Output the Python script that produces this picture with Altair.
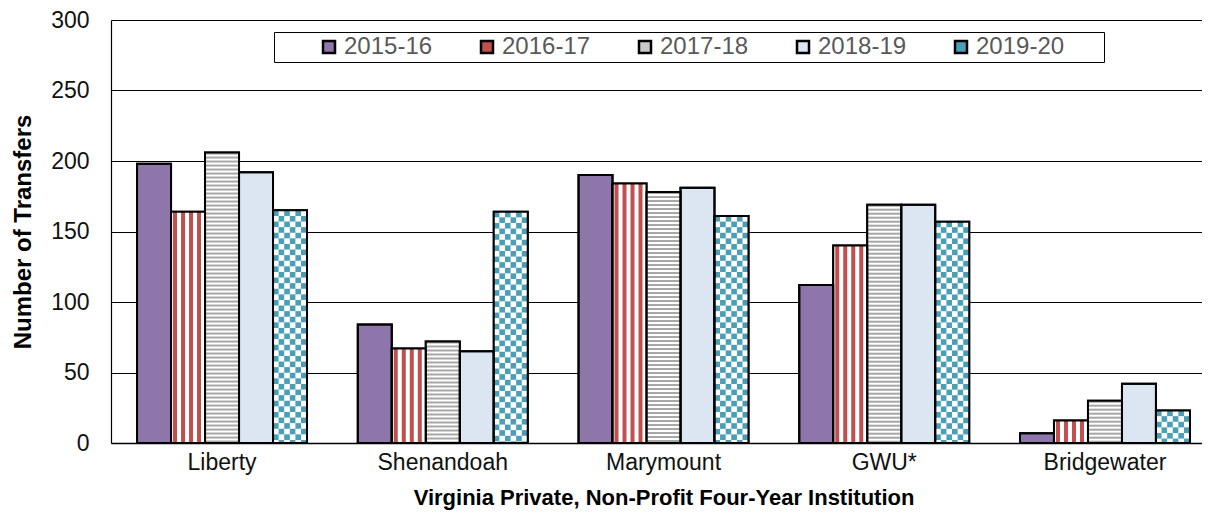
import base64
import altair as alt
import pandas as pd

# ---- data ----
categories = ["Liberty", "Shenandoah", "Marymount", "GWU*", "Bridgewater"]
series = ["2015-16", "2016-17", "2017-18", "2018-19", "2019-20"]
v_2015_16 = [198, 84, 190, 112, 7]
v_2016_17 = [164, 67, 184, 140, 16]
v_2017_18 = [206, 72, 178, 169, 30]
v_2018_19 = [192, 65, 181, 169, 42]
v_2019_20 = [165, 164, 161, 157, 23]
y_ticks = [0, 50, 100, 150, 200, 250, 300]

# ---- style ----
colors = ["#8E76AB", "#C0504D", "#C8C8C8", "#DCE6F2", "#4A9FB6"]
FONT = "Liberation Sans"
W, H = 1091, 423
PX = H / 300.0
BAR_W = 34


def uri(svg):
    return "data:image/svg+xml;base64," + base64.b64encode(svg.encode("utf-8")).decode("ascii")


def svg_wrap(h, body):
    return (f"<svg xmlns='http://www.w3.org/2000/svg' width='{BAR_W}' height='{h:.2f}' "
            f"viewBox='0 0 {BAR_W} {h:.2f}' preserveAspectRatio='none'>{body}</svg>")


def red_vertical(h):
    body = f"<rect width='{BAR_W}' height='{h:.2f}' fill='white'/>"
    for x in (2, 10, 18, 26):
        body += f"<rect x='{x}' y='0' width='4' height='{h:.2f}' fill='#C0504D'/>"
    return uri(svg_wrap(h, body))


def gray_horizontal(h):
    body = ("<defs><pattern id='p' width='34' height='4' patternUnits='userSpaceOnUse'>"
            "<rect width='34' height='2' fill='#A6A6A6'/></pattern></defs>"
            f"<rect width='{BAR_W}' height='{h:.2f}' fill='white'/>"
            f"<rect width='{BAR_W}' height='{h:.2f}' fill='url(#p)'/>")
    return uri(svg_wrap(h, body))


def checker(h):
    c = 5.6
    body = (f"<defs><pattern id='c' width='{2*c}' height='{2*c}' patternUnits='userSpaceOnUse'>"
            f"<rect width='{c}' height='{c}' fill='#4A9FB6'/>"
            f"<rect x='{c}' y='{c}' width='{c}' height='{c}' fill='#4A9FB6'/></pattern></defs>"
            f"<rect width='{BAR_W}' height='{h:.2f}' fill='white'/>"
            f"<rect width='{BAR_W}' height='{h:.2f}' fill='url(#c)'/>")
    return uri(svg_wrap(h, body))


pattern_fn = {"2016-17": red_vertical, "2017-18": gray_horizontal, "2019-20": checker}

rows = []
for s, vals in zip(series, [v_2015_16, v_2016_17, v_2017_18, v_2018_19, v_2019_20]):
    for c, v in zip(categories, vals):
        url = pattern_fn[s](max(v * PX, 1.0)) if s in pattern_fn else None
        rows.append({"cat": c, "series": s, "value": v, "url": url})
df = pd.DataFrame(rows)

x_enc = alt.X(
    "cat:N", sort=categories,
    scale=alt.Scale(range=[0, 1105], paddingInner=0.23, paddingOuter=0.118),
    axis=alt.Axis(title="Virginia Private, Non-Profit Four-Year Institution", labelAngle=0,
                  ticks=False, domainColor="black", domainWidth=1.5, labelFontSize=23,
                  labelPadding=8, labelColor="#111", titleFontSize=22, titleFontWeight="bold",
                  titlePadding=13, titleColor="black"),
)
y_enc = alt.Y(
    "value:Q", scale=alt.Scale(domain=[0, 300], nice=False),
    axis=alt.Axis(values=y_ticks, title="Number of Transfers", ticks=False, grid=True,
                  gridColor="black", gridWidth=1, domainColor="black", domainWidth=1.2,
                  labelFontSize=23, labelPadding=22, labelColor="#111", titleFontSize=24,
                  titleFontWeight="bold", titlePadding=15, titleColor="black"),
)
xo = alt.XOffset("series:N", sort=series)

base = alt.Chart(df).encode(x=x_enc, y=y_enc, xOffset=xo)

nb = "\u00a0"
pad_right = "\u2800" * 2
bars = base.mark_bar(stroke="black", strokeWidth=2).encode(
    color=alt.Color(
        "series:N", scale=alt.Scale(domain=series, range=colors),
        legend=alt.Legend(
            title=nb, titleOrient="left", titlePadding=40, titleFontSize=10,
            orient="none", legendX=163, legendY=12, direction="horizontal",
            strokeColor="black", fillColor="white", padding=3, columnPadding=42,
            labelFontSize=24, labelColor="#595959", labelOffset=3,
            symbolType="square", symbolSize=144, symbolStrokeColor="black",
            symbolStrokeWidth=2.5,
            labelExpr="datum.label == '2019-20' ? datum.label + '" + pad_right + "' : datum.label",
        ),
    )
)
imgs = base.transform_filter("isValid(datum.url)").mark_image(aspect=False).encode(
    url="url:N", y2=alt.datum(0)
)
outline = base.mark_bar(fillOpacity=0, stroke="black", strokeWidth=2)

chart = alt.layer(bars, imgs, outline).properties(
    width=W, height=H,
    autosize=alt.AutoSizeParams(type="none"),
    padding={"left": 103, "top": 12, "right": 0, "bottom": 80},
).configure(font=FONT).configure_view(stroke=None)

chart.save("out.html", embed_options={"renderer": "svg", "actions": False})
